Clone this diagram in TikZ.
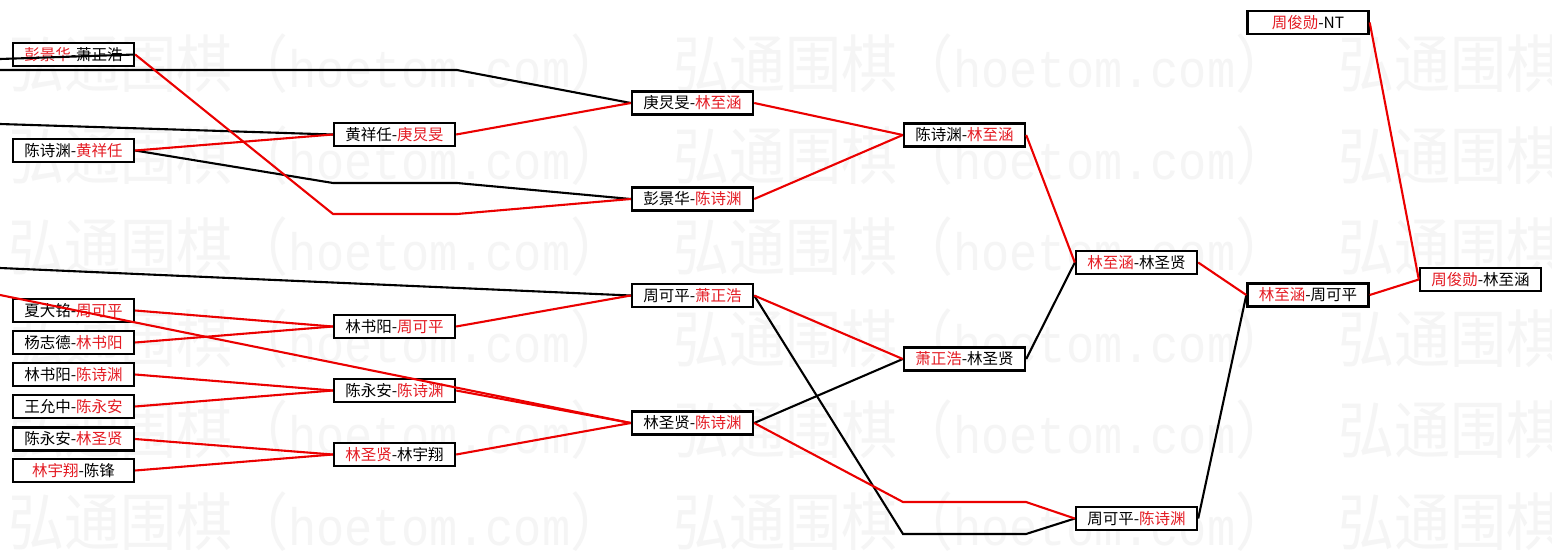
\documentclass[tikz,border=0pt]{standalone}
\usepackage{fontspec}
\newfontfamily\cjk{Noto Sans CJK SC}
\newfontfamily\wmlat{Liberation Mono}
\definecolor{lr}{RGB}{235,0,0}
\definecolor{tr}{RGB}{228,28,36}
\definecolor{wm}{RGB}{245,245,245}
\newcommand\redtx[1]{\textcolor{tr}{#1}}
\newcommand\wmtext{\scalebox{1}[1.12]{\cjk\fontsize{56}{56}\selectfont 弘通围棋（{\wmlat\fontsize{47}{47}\selectfont hoetom.com}）}}
\begin{document}
\begin{tikzpicture}[x=1pt,y=-1pt,
  box/.style={draw=black,line width=2.4pt,fill=white,minimum width=121pt,minimum height=23pt,inner sep=0pt,font=\cjk\fontsize{15.5}{16}\selectfont},
  rl/.style={draw=lr,line width=2.1pt},
  bl/.style={draw=black,line width=2.1pt},
  wmk/.style={anchor=west,text=wm,inner sep=0pt}]
\useasboundingbox (0,0) rectangle (1552,557);
\fill[white] (0,0) rectangle (1552,557);
% watermark
\foreach \yy [count=\i] in {64,155.5,247,338.5,430,521.5}
  \foreach \xx [count=\j] in {8,673,1338}
    \node[wmk] (w\i-\j) at (\xx,\yy) {\wmtext};
% column 1
\node[box] (A1) at (73.5,54.5) {\redtx{彭景华}-萧正浩};
\node[box] (A2) at (73.5,150.5) {陈诗渊-\redtx{黄祥任}};
\node[box] (L1) at (73.5,310.5) {夏大铭-\redtx{周可平}};
\node[box] (L2) at (73.5,342.5) {杨志德-\redtx{林书阳}};
\node[box] (L3) at (73.5,374.5) {林书阳-\redtx{陈诗渊}};
\node[box] (L4) at (73.5,406.5) {王允中-\redtx{陈永安}};
\node[box] (L5) at (73.5,439) {陈永安-\redtx{林圣贤}};
\node[box] (L6) at (73.5,470.5) {\redtx{林宇翔}-陈锋};
% column 2
\node[box] (B1) at (394.5,134.5) {黄祥任-\redtx{庚炅旻}};
\node[box] (M1) at (394.5,326.5) {林书阳-\redtx{周可平}};
\node[box] (M2) at (394.5,390.5) {陈永安-\redtx{陈诗渊}};
\node[box] (M3) at (394.5,454.5) {\redtx{林圣贤}-林宇翔};
% column 3
\node[box] (C1) at (692.5,103) {庚炅旻-\redtx{林至涵}};
\node[box] (C2) at (692.5,199) {彭景华-\redtx{陈诗渊}};
\node[box] (C3) at (692.5,295.5) {周可平-\redtx{萧正浩}};
\node[box] (C4) at (692.5,423) {林圣贤-\redtx{陈诗渊}};
% column 4
\node[box] (D1) at (964.5,135) {陈诗渊-\redtx{林至涵}};
\node[box] (D2) at (964.5,359) {\redtx{萧正浩}-林圣贤};
% column 5
\node[box] (E1) at (1136.5,262.5) {\redtx{林至涵}-林圣贤};
\node[box] (E2) at (1136.5,518.5) {周可平-\redtx{陈诗渊}};
% column 6
\node[box] (H1) at (1308,22.5) {\redtx{周俊勋}-NT};
\node[box] (F1) at (1308,295) {\redtx{林至涵}-周可平};
\node[box] (G1) at (1480.5,279.5) {\redtx{周俊勋}-林至涵};
% free ends and bends
\coordinate (o1) at (0,59);
\coordinate (o2) at (0,70);
\coordinate (o3) at (0,124);
\coordinate (o4) at (0,268);
\coordinate (o5) at (0,295);
\coordinate (k1) at (457,70);
\coordinate (k2) at (333,214);
\coordinate (k3) at (457,214);
\coordinate (k4) at (333,183);
\coordinate (k5) at (457,183);
\coordinate (k6) at (903,534);
\coordinate (k7) at (1026,534);
\coordinate (k8) at (903,502);
\coordinate (k9) at (1026,502);
% black connectors
\draw[bl] (o1) -- (A1.east);
\draw[bl] (o2) -- (k1) -- (C1.west);
\draw[bl] (o3) -- (B1.west);
\draw[bl] (A2.east) -- (k4) -- (k5) -- (C2.west);
\draw[bl] (o4) -- (C3.west);
\draw[bl] (C3.east) -- (k6) -- (k7) -- (E2.west);
\draw[bl] (C4.east) -- (D2.west);
\draw[bl] (D2.east) -- (E1.west);
\draw[bl] (E2.east) -- (F1.west);
% red connectors
\draw[rl] (A1.east) -- (k2) -- (k3) -- (C2.west);
\draw[rl] (A2.east) -- (B1.west);
\draw[rl] (B1.east) -- (C1.west);
\draw[rl] (C1.east) -- (D1.west);
\draw[rl] (C2.east) -- (D1.west);
\draw[rl] (D1.east) -- (E1.west);
\draw[rl] (E1.east) -- (F1.west);
\draw[rl] (F1.east) -- (G1.west);
\draw[rl] (H1.east) -- (G1.west);
\draw[rl] (o5) -- (C4.west);
\draw[rl] (L1.east) -- (M1.west);
\draw[rl] (L2.east) -- (M1.west);
\draw[rl] (L3.east) -- (M2.west);
\draw[rl] (L4.east) -- (M2.west);
\draw[rl] (L5.east) -- (M3.west);
\draw[rl] (L6.east) -- (M3.west);
\draw[rl] (M1.east) -- (C3.west);
\draw[rl] (M2.east) -- (C4.west);
\draw[rl] (M3.east) -- (C4.west);
\draw[rl] (C3.east) -- (D2.west);
\draw[rl] (C4.east) -- (k8) -- (k9) -- (E2.west);
\end{tikzpicture}
\end{document}
